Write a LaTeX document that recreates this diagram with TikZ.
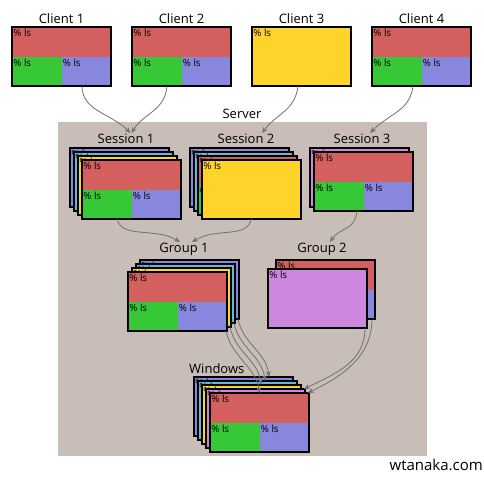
\documentclass[tikz,border=0pt]{standalone}
\usepackage{fontspec}
\setmainfont{Open Sans}
\usetikzlibrary{arrows.meta}

\definecolor{winred}{HTML}{D35F5F}
\definecolor{wingreen}{HTML}{37C837}
\definecolor{winblue}{HTML}{8787DE}
\definecolor{winyellow}{HTML}{FFD42A}
\definecolor{wincyan}{HTML}{5FBCD3}
\definecolor{winviolet}{HTML}{CD87DE}
\definecolor{servergray}{HTML}{C8BEB7}
\definecolor{linkgray}{HTML}{707070}

\newcommand{\triwin}[3]{%
	\fill[winred] (#2,#3) rectangle ++(99,29.5);
	\fill[wingreen] (#2,#3+29.5) rectangle ++(49.5,29.5);
	\fill[winblue] (#2+49.5,#3+29.5) rectangle ++(49.5,29.5);
	\node[ls] at (#2,#3) {\% ls};
	\node[ls] at (#2,#3+29.5) {\% ls};
	\node[ls] at (#2+49.5,#3+29.5) {\% ls};
	\node[win] (#1) at (#2,#3) {};
}
\newcommand{\colwin}[4]{%
	\fill[#2] (#3,#4) rectangle ++(99,59);
	\node[ls] at (#3,#4) {\% ls};
	\node[win] (#1) at (#3,#4) {};
}

\begin{document}
\begin{tikzpicture}[x=1pt,y=-1pt,
	win/.style={draw=black,line width=1.2pt,minimum width=99pt,minimum height=59pt,anchor=north west,inner sep=0pt,outer sep=0pt},
	ls/.style={anchor=north west,inner xsep=1.2pt,inner ysep=2.2pt,font=\fontsize{9.8}{9.8}\selectfont,text=black},
	lab/.style={anchor=north,inner sep=1pt,font=\fontsize{13}{13}\selectfont},
	link/.style={draw=linkgray,line width=0.8pt,-{Stealth[length=6pt,width=5pt,inset=2pt]}}]
\useasboundingbox (0,0) rectangle (484,477);
\fill[white] (0,0) rectangle (484,477);
\fill[servergray] (58,122) rectangle (427,456);

\node[lab] (c1lab) at (61.5,12) {Client 1};
\node[lab] (c2lab) at (181.5,12) {Client 2};
\node[lab] (c3lab) at (301.5,12) {Client 3};
\node[lab] (c4lab) at (421.5,12) {Client 4};
\triwin{c1}{12}{27}
\triwin{c2}{132}{27}
\colwin{c3}{winyellow}{252}{27}
\triwin{c4}{372}{27}

\node[lab] (srvlab) at (242,108) {Server};

\node[lab] (s1lab) at (126,133) {Session 1};
\colwin{s1a}{winblue}{70}{148}
\colwin{s1b}{wincyan}{74}{152}
\colwin{s1c}{winyellow}{78}{156}
\triwin{s1}{82}{160}

\node[lab] (s2lab) at (246,133) {Session 2};
\colwin{s2a}{winblue}{190}{148}
\colwin{s2b}{wincyan}{194}{152}
\triwin{s2c}{198}{156}
\colwin{s2}{winyellow}{202}{160}

\node[lab] (s3lab) at (362,133) {Session 3};
\colwin{s3a}{winviolet}{310}{148}
\triwin{s3}{314}{152}

\node[lab] (g1lab) at (184,242) {Group 1};
\colwin{g1a}{winblue}{140}{260}
\colwin{g1b}{wincyan}{136}{264}
\colwin{g1c}{winyellow}{132}{268}
\triwin{g1d}{128}{272}

\node[lab] (g2lab) at (322,242) {Group 2};
\triwin{g2a}{276}{260}
\colwin{g2b}{winviolet}{268}{269}

\node[lab,anchor=north west] (wlab) at (188,362) {Windows};
\colwin{w1}{winblue}{194}{377}
\colwin{w2}{wincyan}{198}{381}
\colwin{w3}{winyellow}{202}{385}
\colwin{w4}{winviolet}{206}{389}
\triwin{w5}{210}{393}

\node[anchor=north east,inner sep=0pt,font=\fontsize{15}{15}\selectfont] (credit) at (483,459) {wtanaka.com};

\draw[link] ([xshift=20.5]c1.south) .. controls +(0,25) and +(-20,-20) .. ([xshift=4.5]s1lab.north);
\draw[link] ([xshift=-14.5]c2.south) .. controls +(-2,25) and +(12,-20) .. ([xshift=5.5]s1lab.north);
\draw[link] ([xshift=-3.5]c3.south) .. controls +(-3,25) and +(15,-20) .. ([xshift=16]s2lab.north);
\draw[link] ([xshift=-8.5]c4.south) .. controls +(-3,25) and +(20,-20) .. ([xshift=8]s3lab.north);
\draw[link] ([xshift=-14.5]s1.south) .. controls +(5,20) and +(-25,-15) .. ([xshift=-4]g1lab.north);
\draw[link] (s2.south) .. controls +(-5,20) and +(25,-15) .. ([xshift=8]g1lab.north);
\draw[link] ([xshift=-6.5]s3.south) .. controls +(-2,20) and +(10,-15) .. ([xshift=8]g2lab.north);
\draw[link] ([xshift=-1]g1a.south east) .. controls +(5,25) and +(-3,-25) .. ([xshift=25.5]w1.north);
\draw[link] ([xshift=-1]g1b.south east) .. controls +(5,25) and +(-3,-25) .. ([xshift=17.5]w2.north);
\draw[link] ([xshift=-1]g1c.south east) .. controls +(5,25) and +(-3,-25) .. ([xshift=9.5]w3.north);
\draw[link] ([xshift=-1]g1d.south east) .. controls +(5,25) and +(-3,-25) .. (w5.north);
\draw[link] ([xshift=-3]g2a.south east) .. controls +(0,40) and +(30,-15) .. ([xshift=-1]w5.north east);
\draw[link] ([xshift=-2]g2b.south east) .. controls +(0,35) and +(30,-15) .. ([xshift=-1]w4.north east);
\end{tikzpicture}
\end{document}
